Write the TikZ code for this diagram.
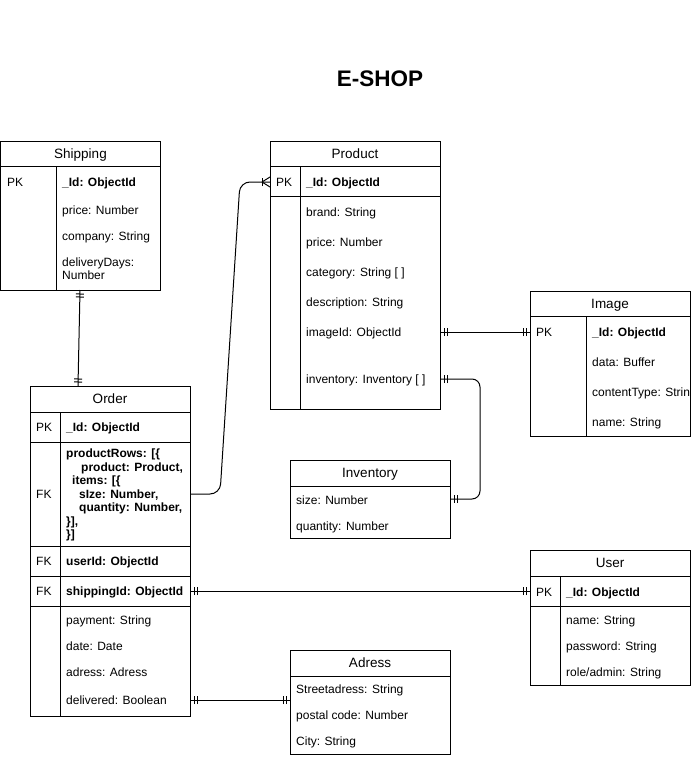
\documentclass[tikz,border=0pt]{standalone}
\usepackage{fontspec}
\setmainfont{Liberation Sans}
\usetikzlibrary{calc,decorations.markings}
\tikzset{
  ent/.style={draw, line width=1pt, anchor=north west, inner sep=0pt, outer sep=0pt},
  fld/.style={anchor=west, inner sep=0pt, text height=11pt, text depth=2.6pt, font=\fontsize{12}{14}\selectfont},
  key/.style={fld, font=\fontsize{12}{14}\selectfont\bfseries},
  hdr/.style={anchor=center, inner sep=0pt, text height=12.4pt, text depth=3pt, font=\fontsize{13.5}{16}\selectfont},
  ttl/.style={anchor=center, inner sep=0pt, text height=19pt, text depth=3.6pt, font=\fontsize{22.5}{26}\selectfont\bfseries},
  sep/.style={line width=1pt},
  rel/.style={line width=1pt},
  oneone/.style={postaction={decorate}, decoration={markings,
      mark=at position 4pt with {\draw[line width=1pt] (0pt,-4pt) -- (0pt,4pt);},
      mark=at position 7pt with {\draw[line width=1pt] (0pt,-4pt) -- (0pt,4pt);},
      mark=at position -4pt with {\draw[line width=1pt] (0pt,-4pt) -- (0pt,4pt);},
      mark=at position -7pt with {\draw[line width=1pt] (0pt,-4pt) -- (0pt,4pt);}}},
  manyend/.style={postaction={decorate}, decoration={markings,
      mark=at position -8pt with {\draw[line width=1pt] (0pt,-4pt) -- (0pt,4pt);
        \draw[line width=1pt] (0pt,0pt) -- (8pt,5pt) (0pt,0pt) -- (8pt,-5pt);}}}
}
\begin{document}
\begin{tikzpicture}[x=1pt,y=-1pt]
\useasboundingbox[fill=white] (0,0) rectangle (691,757);

% title
\node[ttl] (title) at (380,79) {E-SHOP};

% ---------- Shipping ----------
\node[ent, minimum width=160, minimum height=149] (ship) at (0.5,141) {};
\draw[sep] (0.5,166) -- (160.5,166);
\draw[sep] (56,166) -- (56,290);
\node[hdr] (shipH) at (80.5,153.5) {Shipping};
\node[fld] (shipPK) at (7,182) {PK};
\node[key] (shipId) at (62,182) {\_Id: ObjectId};
\node[fld] (shipPrice) at (62,210) {price: Number};
\node[fld] (shipComp) at (62,236) {company: String};
\node[fld] (shipDays1) at (62,262) {deliveryDays:};
\node[fld] (shipDays2) at (62,275) {Number};

% ---------- Order ----------
\node[ent, minimum width=160, minimum height=330] (order) at (30,386) {};
\draw[sep] (30,412) -- (190,412);
\draw[sep] (30,442) -- (190,442);
\draw[sep] (30,546) -- (190,546);
\draw[sep] (30,576) -- (190,576);
\draw[sep] (30,606) -- (190,606);
\draw[sep] (60,412) -- (60,716);
\node[hdr] (ordH) at (110,399) {Order};
\node[fld] (ordPK) at (36,427) {PK};
\node[key] (ordId) at (66,427) {\_Id: ObjectId};
\node[fld] (ordFK) at (36,494) {FK};
\node[key] (pr1) at (66,453.5) {productRows: [\{};
\node[key] (pr2) at (81,467) {product: Product,};
\node[key] (pr3) at (72,480.5) {items: [\{};
\node[key] (pr4) at (79,494) {sIze: Number,};
\node[key] (pr5) at (79,507.5) {quantity: Number,};
\node[key] (pr6) at (66,521) {\}],};
\node[key] (pr7) at (66,534.5) {\}]};
\node[fld] (ordFK2) at (36,561) {FK};
\node[key] (ordUser) at (66,561) {userId: ObjectId};
\node[fld] (ordFK3) at (36,591) {FK};
\node[key] (ordShip) at (66,591) {shippingId: ObjectId};
\node[fld] (ordPay) at (66,620) {payment: String};
\node[fld] (ordDate) at (66,646) {date: Date};
\node[fld] (ordAdr) at (66,672) {adress: Adress};
\node[fld] (ordDel) at (66,700) {delivered: Boolean};

% ---------- Product ----------
\node[ent, minimum width=170, minimum height=268] (prod) at (270,141) {};
\draw[sep] (270,166) -- (440,166);
\draw[sep] (270,196) -- (440,196);
\draw[sep] (300,166) -- (300,409);
\node[hdr] (prodH) at (355,153.5) {Product};
\node[fld] (prodPK) at (276,182) {PK};
\node[key] (prodId) at (306,182) {\_Id: ObjectId};
\node[fld] (prodBrand) at (306,212) {brand: String};
\node[fld] (prodPrice) at (306,242) {price: Number};
\node[fld] (prodCat) at (306,272) {category: String [ ]};
\node[fld] (prodDesc) at (306,302) {description: String};
\node[fld] (prodImg) at (306,332) {imageId: ObjectId};
\node[fld] (prodInv) at (306,379) {inventory: Inventory [ ]};

% ---------- Image ----------
\node[ent, minimum width=160, minimum height=145] (image) at (530,291) {};
\draw[sep] (530,316) -- (690,316);
\draw[sep] (586,316) -- (586,436);
\node[hdr] (imgH) at (610,303.5) {Image};
\node[fld] (imgPK) at (536,332) {PK};
\node[key] (imgId) at (592,332) {\_Id: ObjectId};
\node[fld] (imgData) at (592,362) {data: Buffer};
\begin{scope}
  \clip (586,316) rectangle (689.5,436);
  \node[fld] (imgType) at (592,392) {contentType: String};
\end{scope}
\node[fld] (imgName) at (592,422) {name: String};

% ---------- Inventory ----------
\node[ent, minimum width=160, minimum height=78] (inv) at (290,460) {};
\draw[sep] (290,486) -- (450,486);
\node[hdr] (invH) at (370,473) {Inventory};
\node[fld] (invSize) at (296,500) {size: Number};
\node[fld] (invQty) at (296,526) {quantity: Number};

% ---------- User ----------
\node[ent, minimum width=160, minimum height=135] (user) at (530,550) {};
\draw[sep] (530,576) -- (690,576);
\draw[sep] (530,606) -- (690,606);
\draw[sep] (560,576) -- (560,685);
\node[hdr] (userH) at (610,563) {User};
\node[fld] (userPK) at (536,592) {PK};
\node[key] (userId) at (566,592) {\_Id: ObjectId};
\node[fld] (userName) at (566,620) {name: String};
\node[fld] (userPw) at (566,646) {password: String};
\node[fld] (userRole) at (566,672) {role/admin: String};

% ---------- Adress ----------
\node[ent, minimum width=160, minimum height=104] (adr) at (290,650) {};
\draw[sep] (290,676) -- (450,676);
\node[hdr] (adrH) at (370,663) {Adress};
\node[fld] (adrStreet) at (296,689) {Streetadress: String};
\node[fld] (adrPostal) at (296,715) {postal code: Number};
\node[fld] (adrCity) at (296,741) {City: String};

% ---------- Relations ----------
\draw[rel, oneone] ($(ship.south west)+(79.5,0)$) -- ($(order.north west)+(48,0)$);
\draw[rel, rounded corners=10pt, manyend] (order.east |- ordFK) -- ++(30,0)
   -- ($(prod.west |- prodPK)+(-30,0)$) -- (prod.west |- prodPK);
\draw[rel, oneone] (prod.east |- prodImg) -- (image.west |- prodImg);
\draw[rel, oneone, rounded corners=8pt] (prod.east |- prodInv) -- ++(40,0) |- (inv.east);
\draw[rel, oneone] (order.east |- ordShip) -- (user.west |- ordShip);
\draw[rel, oneone] (order.east |- ordDel) -- (adr.west |- ordDel);
\end{tikzpicture}
\end{document}
